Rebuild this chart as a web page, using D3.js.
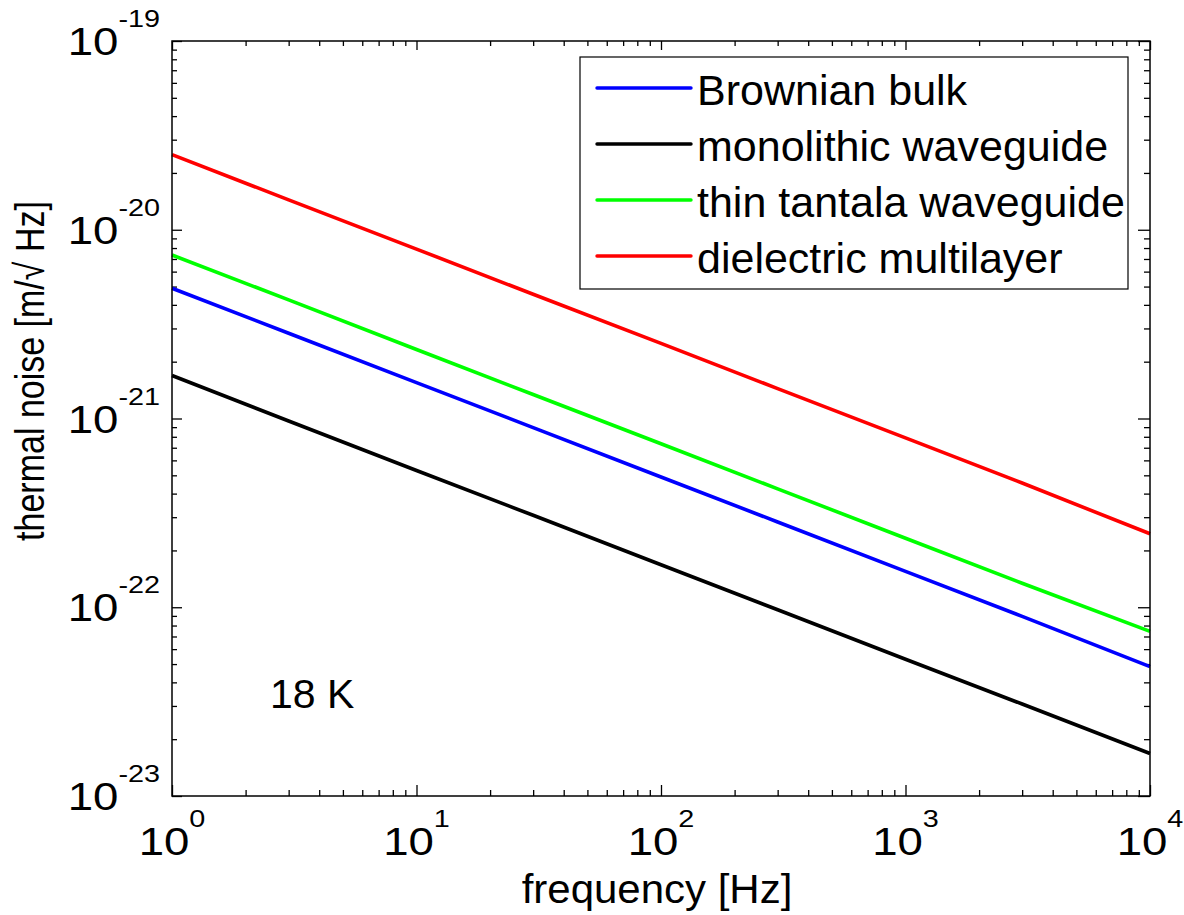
<!DOCTYPE html>
<html>
<head>
<meta charset="utf-8">
<script src="https://cdn.jsdelivr.net/npm/d3@7"></script>
<style>
  body { margin: 0; background: #fff; }
  text { font-family: "Liberation Sans", Arial, sans-serif; }
</style>
</head>
<body>
<div id="chart"></div>
<script>
// thermal noise vs frequency, log-log
const freq = [1, 3, 10, 30, 100, 300, 1000, 3000, 10000];
const brownianBulk = [4.9e-21, 2.83e-21, 1.55e-21, 8.95e-22, 4.9e-22, 2.83e-22, 1.55e-22, 8.95e-23, 4.85e-23];
const monolithicWaveguide = [1.69e-21, 9.7e-22, 5.3e-22, 3.07e-22, 1.68e-22, 9.7e-23, 5.3e-23, 3.07e-23, 1.68e-23];
const thinTantalaWaveguide = [7.35e-21, 4.25e-21, 2.32e-21, 1.34e-21, 7.35e-22, 4.24e-22, 2.32e-22, 1.34e-22, 7.45e-23];
const dielectricMultilayer = [2.5e-20, 1.44e-20, 7.9e-21, 4.55e-21, 2.5e-21, 1.44e-21, 7.9e-22, 4.55e-22, 2.45e-22];

const seriesNames = ["Brownian bulk", "monolithic waveguide", "thin tantala waveguide", "dielectric multilayer"];
const seriesColors = ["#0000ff", "#000000", "#00ff00", "#ff0000"];
const seriesValues = [brownianBulk, monolithicWaveguide, thinTantalaWaveguide, dielectricMultilayer];

const xTickExp = [0, 1, 2, 3, 4];
const yTickExp = [-19, -20, -21, -22, -23];

const W = 1184, H = 915;
const margin = { top: 41, right: 34, bottom: 119, left: 172 },
  width = W - margin.left - margin.right,
  height = H - margin.top - margin.bottom;

const svg = d3.select("#chart").append("svg")
  .attr("width", W).attr("height", H);

const chart = svg.append("g")
  .attr("transform", `translate(${margin.left},${margin.top})`);

const x = d3.scaleLog().domain([1, 1e4]).range([0, width]);
const y = d3.scaleLog().domain([1e-23, 1e-19]).range([height, 0]);

// minor + major ticks
const xMinor = [], yMinor = [];
for (let e = 0; e < 4; e++) for (let m = 2; m <= 9; m++) xMinor.push(m * Math.pow(10, e));
for (let e = -23; e < -19; e++) for (let m = 2; m <= 9; m++) yMinor.push(m * Math.pow(10, e));
const xMajor = xTickExp.map(e => Math.pow(10, e));
const yMajor = yTickExp.map(e => Math.pow(10, e));

function tickAxis(axisFn, scale, vals, len, transform) {
  const g = chart.append("g")
    .attr("transform", transform)
    .call(axisFn(scale).tickValues(vals).tickSize(len).tickFormat(""));
  g.select(".domain").remove();
  g.selectAll("line").attr("stroke", "#000").attr("stroke-width", 1.3);
}
// ticks point inward on all four sides
tickAxis(d3.axisTop, x, xMinor, 6, `translate(0,${height})`);
tickAxis(d3.axisTop, x, xMajor, 11, `translate(0,${height})`);
tickAxis(d3.axisBottom, x, xMinor, 5, "translate(0,0)");
tickAxis(d3.axisBottom, x, xMajor, 9, "translate(0,0)");
tickAxis(d3.axisRight, y, yMinor, 5, "translate(0,0)");
tickAxis(d3.axisRight, y, yMajor, 10, "translate(0,0)");
tickAxis(d3.axisLeft, y, yMinor, 6, `translate(${width},0)`);
tickAxis(d3.axisLeft, y, yMajor, 12, `translate(${width},0)`);

// lines
const line = d3.line().x(d => x(d[0])).y(d => y(d[1]));
seriesValues.forEach((vals, i) => {
  chart.append("path")
    .datum(freq.map((f, j) => [f, vals[j]]))
    .attr("fill", "none")
    .attr("stroke", seriesColors[i])
    .attr("stroke-width", 3.6)
    .attr("stroke-linejoin", "round")
    .attr("d", line);
});

// frame
chart.append("rect")
  .attr("width", width).attr("height", height)
  .attr("fill", "none").attr("stroke", "#000").attr("stroke-width", 1.5);

// tick labels 10^n
function powLabel(g, exp, anchor) {
  const t = g.append("text").attr("text-anchor", anchor).attr("fill", "#000");
  t.append("tspan").attr("font-size", 38).text("10");
  t.append("tspan").attr("font-size", 24).attr("dy", -28).text(exp);
}
xTickExp.forEach(e => {
  const g = chart.append("g")
    .attr("transform", `translate(${x(Math.pow(10, e))},${height + 59}) scale(1.2,1)`);
  powLabel(g, e, "middle");
});
yTickExp.forEach(e => {
  const g = chart.append("g")
    .attr("transform", `translate(-12,${y(Math.pow(10, e)) + 14}) scale(1.2,1)`);
  powLabel(g, e, "end");
});

// axis titles
svg.append("text")
  .attr("transform", `translate(${margin.left + width / 2 - 4},903) scale(1.05,1)`)
  .attr("text-anchor", "middle")
  .attr("font-size", 40)
  .text("frequency [Hz]");

svg.append("text")
  .attr("transform", "translate(44,371) rotate(-90) scale(1,1.2)")
  .attr("text-anchor", "middle")
  .attr("font-size", 34)
  .text("thermal noise [m/√ Hz]");

// annotation
chart.append("text")
  .attr("x", x(1) + 98).attr("y", 708 - margin.top)
  .attr("font-size", 41)
  .text("18 K");

// legend
const legend = svg.append("g").attr("transform", "translate(580,57)");
legend.append("rect")
  .attr("width", 548).attr("height", 232)
  .attr("fill", "#fff").attr("stroke", "#000").attr("stroke-width", 1.2);
seriesNames.forEach((name, i) => {
  const ly = 31 + i * 56;
  legend.append("line")
    .attr("x1", 17).attr("x2", 111).attr("y1", ly).attr("y2", ly)
    .attr("stroke", seriesColors[i]).attr("stroke-width", 3.4)
    .attr("stroke-linecap", "round");
  legend.append("text")
    .attr("x", 117).attr("y", ly + 17)
    .attr("font-size", 43)
    .text(name);
});
</script>
</body>
</html>
